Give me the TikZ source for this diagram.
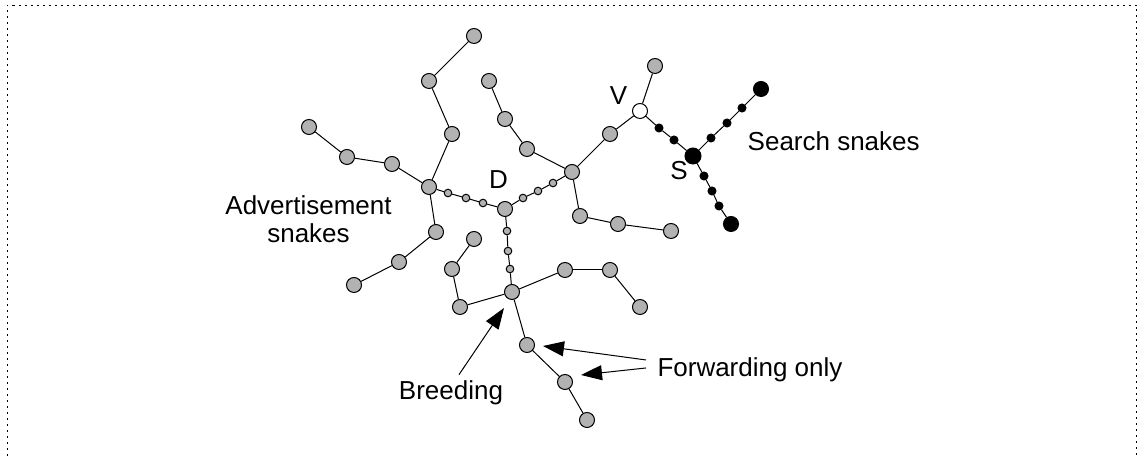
\documentclass[tikz,border=0pt]{standalone}
\usepackage{fontspec}
\setmainfont{Liberation Sans}
\usetikzlibrary{arrows.meta}
\definecolor{peergray}{RGB}{178,178,178}

\begin{document}
\begin{tikzpicture}[x=.5pt, y=-.5pt, line width=.5pt,
  peer/.style={circle, draw, fill=peergray, inner sep=0, minimum size=7.5pt},
  hop/.style={peer, minimum size=3.8pt},
  probe/.style={circle, draw, fill=black, inner sep=0, minimum size=4pt},
  seeker/.style={probe, minimum size=7.5pt},
  lbl/.style={inner sep=0, font=\fontsize{13}{13.8}\selectfont},
  pointer/.style={-{Triangle[length=10.5pt, width=7.5pt]}}]
\useasboundingbox (0,0) rectangle (1137,458);
\draw[dash pattern=on 1pt off 2pt] (7,462) |- (1136.5,5.5) -- (1136.5,462);

% grey peers
\foreach \n/\x/\y in {A/429/187, a1/452/134, a2/429/81, a3/474/36, a4/392/164, a5/347/157,
  a6/309/127, a7/436/232, a8/399/262, a9/354/285, D/505/209, R/572/172, r1/527/149,
  r2/505/119, r3/489/81, r4/610/134, r5/655/66, r6/580/216, r7/618/224, r8/671/231,
  B/512/292, b1/460/307, b2/452/269, b3/474/239, b4/565/270, b5/610/270, b6/640/307,
  b7/527/345, b8/565/382, b9/587/420}
  \node[peer] (\n) at (\x,\y) {};
\foreach \n/\x/\y in {h1/448/193, h2/466/198, h3/483/203, h4/523/198, h5/538/191,
  h6/553/183, h7/507/231, h8/508/251, h9/510/269}
  \node[hop] (\n) at (\x,\y) {};
% search side
\node[peer, fill=white] (V) at (640,111) {};
\node[seeker, minimum size=8pt] (S) at (693,156) {};
\foreach \n/\x/\y in {s1/659/128, s2/674/140, s3/711/138, s4/727/123, s5/742/108,
  s6/704/176, s7/712/191, s8/719/206}
  \node[probe] (\n) at (\x,\y) {};
\node[seeker] (s9) at (761,89) {};
\node[seeker] (s10) at (731,224) {};

\foreach \p/\q in {A/a1, a1/a2, a2/a3, A/a4, a4/a5, a5/a6, A/a7, a7/a8, a8/a9, A/h1,
  h1/h2, h2/h3, h3/D, D/h4, h4/h5, h5/h6, h6/R, R/r1, r1/r2, r2/r3, R/r4, r4/V, V/r5,
  R/r6, r6/r7, r7/r8, D/h7, h7/h8, h8/h9, h9/B, B/b1, b1/b2, b2/b3, B/b4, b4/b5, b5/b6,
  B/b7, b7/b8, b8/b9, V/s1, s1/s2, s2/S, S/s3, s3/s4, s4/s5, s5/s9, S/s6, s6/s7,
  s7/s8, s8/s10}
  \draw (\p) -- (\q);

% labels
\node[lbl, anchor=base] (dlbl) at (498.5,188.3) {D};
\node[lbl, anchor=base] (vlbl) at (618.5,105) {V};
\node[lbl, anchor=base] (slbl) at (679,180) {S};
\node[lbl, anchor=base] (search) at (833.7,150.7) {Search snakes};
\node[lbl, align=center] (advert) at (308.5,219.5) {Advertisement\\snakes};
\node[lbl, anchor=base] (breed) at (451,400) {Breeding};
\node[lbl, anchor=base] (fwd) at (750,376.7) {Forwarding only};

\coordinate (breedtip) at (504,308);
\coordinate (fwdtip1) at (543,346);
\coordinate (fwdtip2) at (581,375);
\draw[pointer] (breed.north) ++(8,-6) -- (breedtip);
\draw[pointer] (fwd.west) ++(-11,-10) -- (fwdtip1);
\draw[pointer] (fwd.west) ++(-11,-2) -- (fwdtip2);
\end{tikzpicture}
\end{document}
